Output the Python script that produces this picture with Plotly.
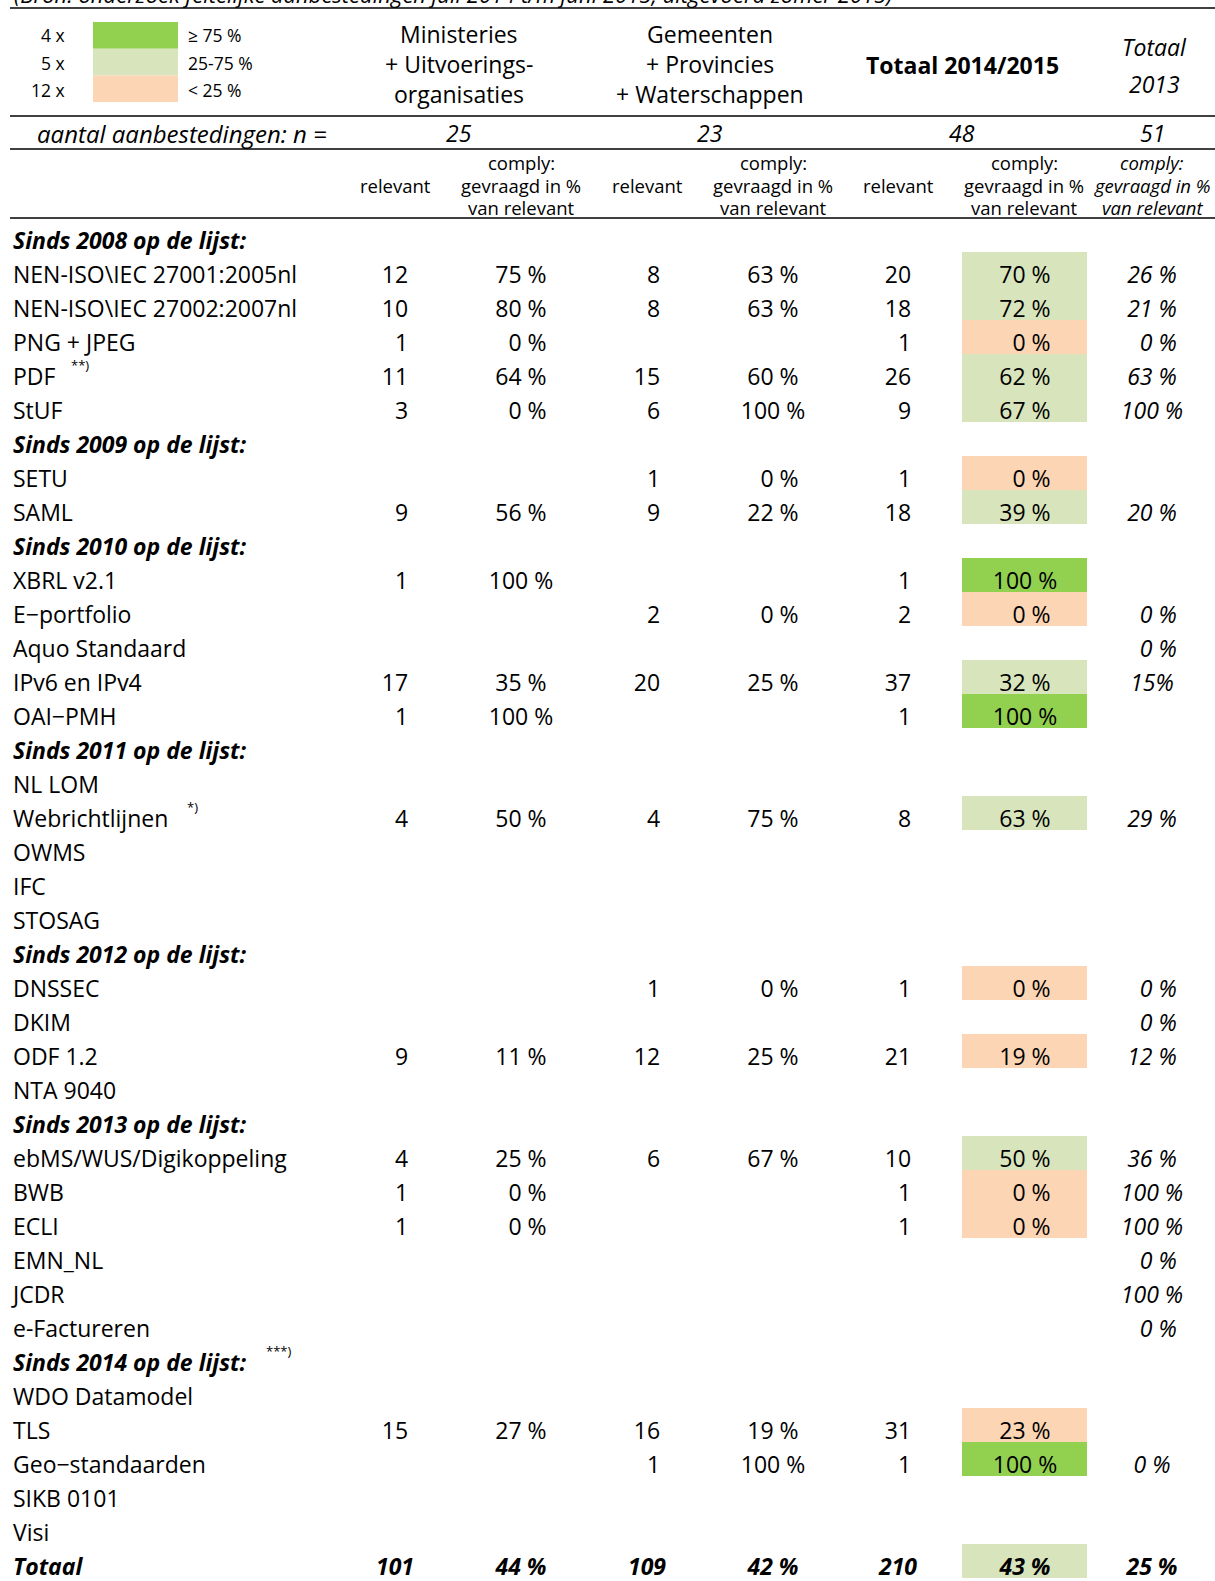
import plotly.graph_objects as go

# ---------------- data ----------------
labels = [
    "Sinds 2008 op de lijst:", "NEN-ISO\\IEC 27001:2005nl", "NEN-ISO\\IEC 27002:2007nl", "PNG + JPEG",
    "PDF", "StUF",
    "Sinds 2009 op de lijst:", "SETU", "SAML",
    "Sinds 2010 op de lijst:", "XBRL v2.1", "E\u2212portfolio", "Aquo Standaard", "IPv6 en IPv4", "OAI\u2212PMH",
    "Sinds 2011 op de lijst:", "NL LOM", "Webrichtlijnen", "OWMS", "IFC", "STOSAG",
    "Sinds 2012 op de lijst:", "DNSSEC", "DKIM", "ODF 1.2", "NTA 9040",
    "Sinds 2013 op de lijst:", "ebMS/WUS/Digikoppeling", "BWB", "ECLI", "EMN_NL", "JCDR", "e-Factureren",
    "Sinds 2014 op de lijst:", "WDO Datamodel", "TLS", "Geo\u2212standaarden", "SIKB 0101", "Visi",
    "Totaal",
]
row_kind = (["s"] + ["i"] * 5 + ["s"] + ["i"] * 2 + ["s"] + ["i"] * 5 + ["s"] + ["i"] * 5
            + ["s"] + ["i"] * 4 + ["s"] + ["i"] * 6 + ["s"] + ["i"] * 5 + ["t"])
footnote_rows = [4, 17, 33]
footnote_marks = ["**)", "*)", "***)"]

N = None
min_rel = [N, 12, 10, 1, 11, 3, N, N, 9, N, 1, N, N, 17, 1, N, N, 4, N, N, N,
           N, N, N, 9, N, N, 4, 1, 1, N, N, N, N, N, 15, N, N, N, 101]
min_pct = [N, 75, 80, 0, 64, 0, N, N, 56, N, 100, N, N, 35, 100, N, N, 50, N, N, N,
           N, N, N, 11, N, N, 25, 0, 0, N, N, N, N, N, 27, N, N, N, 44]
gem_rel = [N, 8, 8, N, 15, 6, N, 1, 9, N, N, 2, N, 20, N, N, N, 4, N, N, N,
           N, 1, N, 12, N, N, 6, N, N, N, N, N, N, N, 16, 1, N, N, 109]
gem_pct = [N, 63, 63, N, 60, 100, N, 0, 22, N, N, 0, N, 25, N, N, N, 75, N, N, N,
           N, 0, N, 25, N, N, 67, N, N, N, N, N, N, N, 19, 100, N, N, 42]
tot_rel = [N, 20, 18, 1, 26, 9, N, 1, 18, N, 1, 2, N, 37, 1, N, N, 8, N, N, N,
           N, 1, N, 21, N, N, 10, 1, 1, N, N, N, N, N, 31, 1, N, N, 210]
tot_pct = [N, 70, 72, 0, 62, 67, N, 0, 39, N, 100, 0, N, 32, 100, N, N, 63, N, N, N,
           N, 0, N, 19, N, N, 50, 0, 0, N, N, N, N, N, 23, 100, N, N, 43]
FSP = "\u2007"
tot2013 = ["", "26 %", "21 %", FSP + "0 %", "63 %", "100 %", "", "", "20 %", "", "", FSP + "0 %", FSP + "0 %",
           "15%", "", "", "", "29 %", "", "", "", "", FSP + "0 %", FSP + "0 %", "12 %", "", "", "36 %",
           "100 %", "100 %", FSP + "0 %", "100 %", FSP + "0 %", "", "", "", "0 %", "", "", "25 %"]

n_values = ["25", "23", "48", "51"]
group_titles = ["Ministeries<br>+ Uitvoerings-<br>organisaties",
                "Gemeenten<br>+ Provincies<br>+ Waterschappen"]
legend_counts = ["4 x", "5 x", "12 x"]
legend_labels = ["\u2265 75 %", "25-75 %", "< 25 %"]
legend_colors = ["#92D050", "#D8E4BC", "#FCD5B4"]
thresholds = [75, 25]

# ---------------- layout constants ----------------
W, H = 1215, 1581
ROW0, ROWH = 240, 34
FONT = "Open Sans"
FS_MAIN = 23
FS_HEAD = 23
FS_SUB = 18.5
FS_LEG = 17.5
TEXT_DY = 3 / 34
X_LABEL = 13
X_MIN_REL, X_MIN_PCT = 395, 521
X_GEM_REL, X_GEM_PCT = 647, 773
X_TOT_REL, X_TOT_PCT = 898, 1025
X_T13 = 1152
CELL_X0, CELL_W = 962, 125
FOOTNOTE_X = [69, 185, 264]


def ry(px):
    return (px - ROW0) / ROWH


def fmt_num(v):
    if v is None:
        return ""
    return (FSP + str(v)) if v < 10 else str(v)


def fmt_pct(v):
    if v is None:
        return ""
    return (FSP if v < 10 else "") + f"{v} %"


def cell_color(v):
    if v >= thresholds[0]:
        return legend_colors[0]
    if v >= thresholds[1]:
        return legend_colors[1]
    return legend_colors[2]


rows = list(range(len(labels)))
fig = go.Figure()

# coloured cells of the "Totaal 2014/2015" percentage column
cell_rows = [i for i in rows if tot_pct[i] is not None]
fig.add_trace(go.Bar(
    orientation="h", y=cell_rows, x=[CELL_W] * len(cell_rows), base=CELL_X0,
    width=1.0, offset=-0.64,
    marker=dict(color=[cell_color(tot_pct[i]) for i in cell_rows], line=dict(width=0)),
    hoverinfo="skip",
))


def text_col(x, texts, style="normal", position="middle center"):
    idx = [i for i, t in enumerate(texts) if t]
    out = []
    for i in idx:
        t = texts[i]
        if row_kind[i] == "t":
            t = f"<b>{t}</b>" if style == "italic" else f"<b><i>{t}</i></b>"
        out.append(t)
    fig.add_trace(go.Scatter(
        x=[x] * len(idx), y=[i + TEXT_DY for i in idx], mode="text", text=out,
        textposition=position,
        textfont=dict(family=FONT, size=FS_MAIN, color="black", style=style),
        hoverinfo="skip",
    ))


# row labels
fig.add_trace(go.Scatter(
    x=[X_LABEL] * len(rows), y=[i + TEXT_DY for i in rows], mode="text",
    text=[f"<b><i>{s}</i></b>" if row_kind[i] in ("s", "t") else s for i, s in enumerate(labels)],
    textposition="middle right", textfont=dict(family=FONT, size=FS_MAIN, color="black"),
    hoverinfo="skip",
))

text_col(X_MIN_REL, [fmt_num(v) for v in min_rel])
text_col(X_MIN_PCT, [fmt_pct(v) for v in min_pct])
text_col(X_GEM_REL, [fmt_num(v) for v in gem_rel])
text_col(X_GEM_PCT, [fmt_pct(v) for v in gem_pct])
text_col(X_TOT_REL, [fmt_num(v) for v in tot_rel])
text_col(X_TOT_PCT, [fmt_pct(v) for v in tot_pct])
text_col(X_T13, tot2013, style="italic")

# ---------------- header ----------------
ann = []


def add_text(x, ypx, text, size, xanchor="center", style="normal", weight="normal"):
    ann.append(dict(x=x, y=ry(ypx), xref="x", yref="y", text=text, showarrow=False,
                    xanchor=xanchor, yanchor="middle",
                    font=dict(family=FONT, size=size, color="black", style=style, weight=weight)))


# footnote marks next to row labels
for r, m, x in zip(footnote_rows, footnote_marks, FOOTNOTE_X):
    ann.append(dict(x=x, y=r - 11 / ROWH, xref="x", yref="y", text=m, showarrow=False,
                    xanchor="left", yanchor="middle",
                    font=dict(family=FONT, size=13, color="black")))

# source line at the very top (cut off by the top edge, as in the original)
ann.append(dict(x=12 / W, y=1 + 6 / H, xref="paper", yref="paper", yanchor="middle", xanchor="left",
                text="(Bron: onderzoek feitelijke aanbestedingen juli 2014 t/m juni 2015, uitgevoerd zomer 2015)",
                showarrow=False, font=dict(family=FONT, size=22, color="black", style="italic")))

# legend
for k in range(3):
    add_text(67, 35 + 27.5 * k, legend_counts[k], FS_LEG, xanchor="right")
    add_text(186, 35 + 27.5 * k, legend_labels[k], FS_LEG, xanchor="left")

for x, t in zip([459, 710], group_titles):
    for j, line in enumerate(t.split("<br>")):
        add_text(x, 34 + 30 * j, line, FS_HEAD)
add_text(962, 65, "Totaal 2014/2015", FS_HEAD, weight="bold")
add_text(1154, 47, "Totaal", FS_HEAD, style="italic")
add_text(1154, 84, "2013", FS_HEAD, style="italic")

add_text(35, 133, "aantal aanbestedingen: n =", 24, xanchor="left", style="italic")
for x, v in zip([459, 710, 962, 1152], n_values):
    add_text(x, 133, v, FS_HEAD, style="italic")

for x in [X_MIN_REL, X_GEM_REL, X_TOT_REL]:
    add_text(x, 185, "relevant", FS_SUB)
for x in [X_MIN_PCT, X_GEM_PCT, X_TOT_PCT - 1]:
    add_text(x, 162, "comply:", FS_SUB)
    add_text(x, 185, "gevraagd in %", FS_SUB)
    add_text(x, 207, "van relevant", FS_SUB)
add_text(X_T13, 162, "comply:", FS_SUB, style="italic")
add_text(X_T13, 185, "gevraagd in %", FS_SUB, style="italic")
add_text(X_T13, 207, "van relevant", FS_SUB, style="italic")

shapes = []
for k in range(3):
    shapes.append(dict(type="rect", xref="x", yref="y", x0=93, x1=178,
                       y0=ry(22 + 26.7 * k), y1=ry(22 + 26.7 * (k + 1)),
                       fillcolor=legend_colors[k], line=dict(width=0)))
for ypx in [8, 116, 149, 218]:
    shapes.append(dict(type="line", xref="x", yref="y", x0=10, x1=W, y0=ry(ypx), y1=ry(ypx),
                       line=dict(color="black", width=1.5)))

fig.update_layout(
    width=W, height=H, margin=dict(l=0, r=0, t=0, b=0),
    paper_bgcolor="white", plot_bgcolor="white", showlegend=False,
    xaxis=dict(range=[0, W], visible=False, fixedrange=True),
    yaxis=dict(range=[ry(H), ry(0)], visible=False, fixedrange=True),
    annotations=ann, shapes=shapes, bargap=0,
)

fig.write_html("out.html", config={"displayModeBar": False},
               post_script="document.body.style.margin='0px';")
